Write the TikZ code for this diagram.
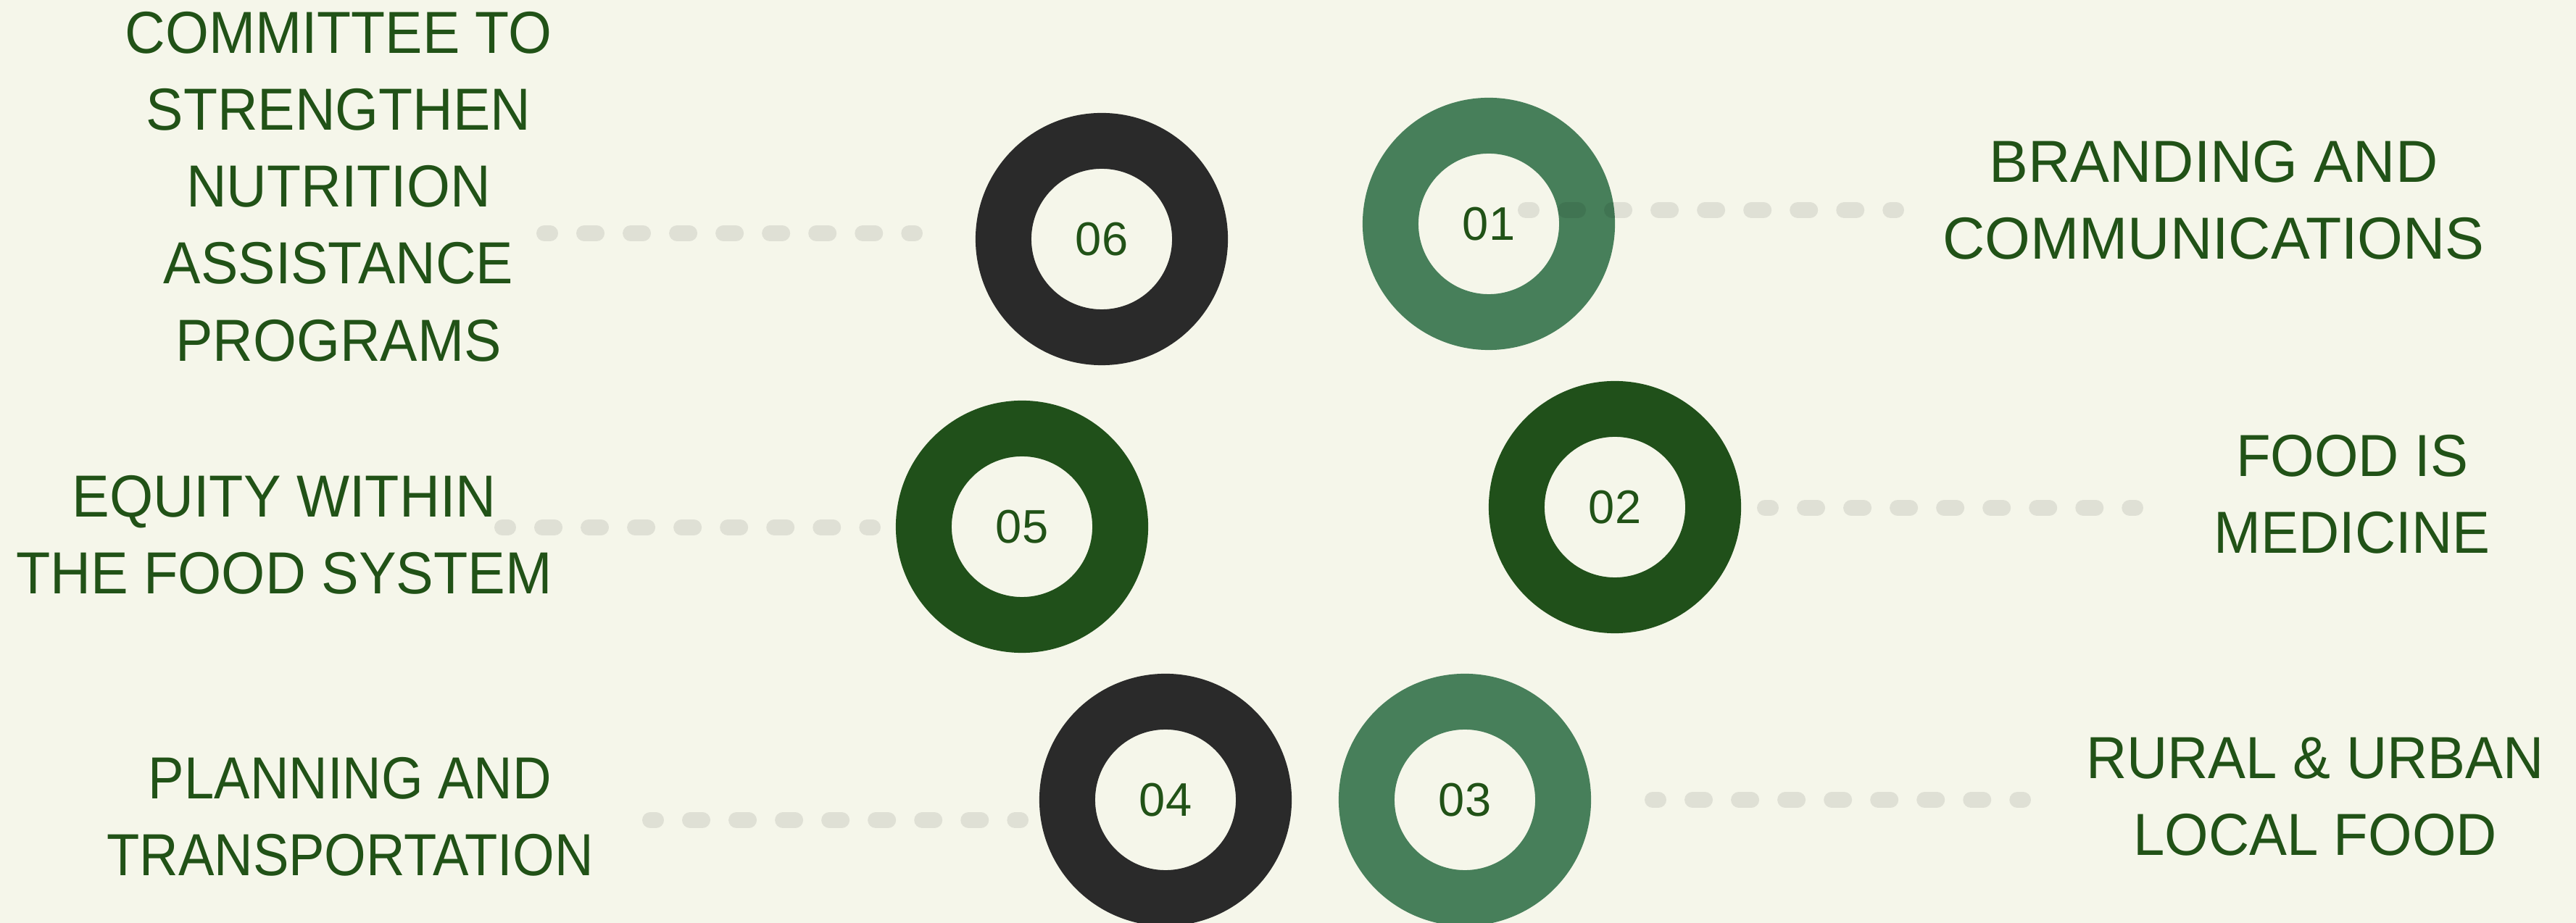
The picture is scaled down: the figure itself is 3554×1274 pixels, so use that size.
\documentclass[tikz,border=0pt]{standalone}
\usepackage{fontspec}
\setmainfont{Liberation Sans}
\newfontfamily\fsSix[FakeStretch=0.94]{Liberation Sans}
\newfontfamily\fsOne[FakeStretch=0.985]{Liberation Sans}
\newfontfamily\fsTwo[FakeStretch=0.95]{Liberation Sans}
\newfontfamily\fsFive[FakeStretch=0.945]{Liberation Sans}
\newfontfamily\fsFour[FakeStretch=0.905]{Liberation Sans}
\newfontfamily\fsThree[FakeStretch=0.95]{Liberation Sans}
\definecolor{bg}{HTML}{F5F6EA}
\definecolor{txt}{HTML}{215217}
\definecolor{gmid}{HTML}{477F5A}
\definecolor{gdark}{HTML}{20501A}
\definecolor{ringgray}{HTML}{2A2A2A}
\tikzset{
  ring/.style={circle, minimum size=2.71cm, inner sep=0pt, line width=0.77cm,
    fill=bg, draw=#1, text=txt, font=\fontsize{18.5}{22}\selectfont},
  lbl/.style={align=center, text=txt, inner sep=0pt,
    font=#1\fontsize{23.3}{30.2}\selectfont},
  dotline/.style={line width=0.22cm, line cap=round,
    dash pattern=on 0.17cm off 0.47cm, dash phase=0.09cm,
    draw=black, draw opacity=0.085}
}
\begin{document}
\begin{tikzpicture}[x=0.01cm, y=-0.01cm]
\fill[bg] (0,0) rectangle (3554,1274);
\useasboundingbox (0,0) rectangle (3554,1274);

% rings
\node[ring=ringgray] (c6) at (1520,330) {06};
\node[ring=gmid]     (c1) at (2054,309) {01};
\node[ring=gdark]    (c2) at (2228,700) {02};
\node[ring=gdark]    (c5) at (1410,727) {05};
\node[ring=ringgray] (c4) at (1608,1104) {04};
\node[ring=gmid]     (c3) at (2021,1104) {03};

% labels
\node[lbl=\fsSix] (t6) at (467,257.5) {COMMITTEE TO\\STRENGTHEN\\NUTRITION\\ASSISTANCE\\PROGRAMS};
\node[lbl=\fsOne] (t1) at (3054,276.5) {BRANDING AND\\COMMUNICATIONS};
\node[lbl=\fsTwo] (t2) at (3245,682.5) {FOOD IS\\MEDICINE};
\node[lbl=\fsFive] (t5) at (392,738) {EQUITY WITHIN\\THE FOOD SYSTEM};
\node[lbl=\fsFour] (t4) at (483,1127) {PLANNING AND\\TRANSPORTATION};
\node[lbl=\fsThree] (t3) at (3194,1099.5) {RURAL \& URBAN\\LOCAL FOOD};

% dotted connectors
\coordinate (d6a) at (751,322);  \coordinate (d6b) at (1262,322);
\coordinate (d1a) at (2105,290); \coordinate (d1b) at (2616,290);
\coordinate (d2a) at (2435,701); \coordinate (d2b) at (2946,701);
\coordinate (d5a) at (693,728);  \coordinate (d5b) at (1204,728);
\coordinate (d4a) at (897,1132); \coordinate (d4b) at (1408,1132);
\coordinate (d3a) at (2280,1104);\coordinate (d3b) at (2791,1104);
\draw[dotline] (d6a) -- (d6b);
\draw[dotline] (d1a) -- (d1b);
\draw[dotline] (d2a) -- (d2b);
\draw[dotline] (d5a) -- (d5b);
\draw[dotline] (d4a) -- (d4b);
\draw[dotline] (d3a) -- (d3b);
\end{tikzpicture}
\end{document}
